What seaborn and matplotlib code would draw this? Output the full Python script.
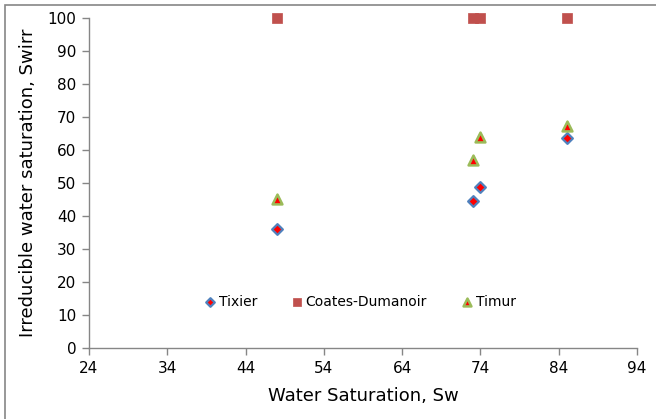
import matplotlib
matplotlib.use("Agg")
import matplotlib.pyplot as plt
import seaborn as sns
import pandas as pd
from matplotlib.patches import Rectangle

sw = [48, 73, 74, 85]
tixier = [36.0, 44.5, 48.7, 63.5]
coates = [100, 100, 100, 100]
timur = [45.0, 57.0, 64.0, 67.3]
xticks = [24, 34, 44, 54, 64, 74, 84, 94]
yticks = list(range(0, 101, 10))

sns.set_theme(style="white")
plt.rcParams['font.family'] = ['Tahoma', 'DejaVu Sans']

rows = []
for name, vals in [("Tixier", tixier), ("Coates-Dumanoir", coates), ("Timur", timur)]:
    for x, y in zip(sw, vals):
        rows.append({"Sw": x, "Swirr": y, "Model": name})
df = pd.DataFrame(rows)

fig = plt.figure(figsize=(6.56, 4.19), dpi=100)
ax = fig.add_axes([89/656, 1-348/419, (637-89)/656, (348-18)/419])

styles = {
    "Tixier": dict(marker="D", s=30, color="red", edgecolor="#4F81BD", linewidth=1.6),
    "Coates-Dumanoir": dict(marker="s", s=55, color="#C0504D", edgecolor="#C0504D", linewidth=0.5),
    "Timur": dict(marker="^", s=50, color="red", edgecolor="#9BBB59", linewidth=1.8),
}
for name, st in styles.items():
    sub = df[df["Model"] == name]
    sns.scatterplot(data=sub, x="Sw", y="Swirr", ax=ax, label=name, clip_on=False, zorder=3, **st)

ax.set_xlim(24, 94)
ax.set_ylim(0, 100)
ax.set_xticks(xticks)
ax.set_yticks(yticks)
for s in ["top", "right"]:
    ax.spines[s].set_visible(False)
for s in ["left", "bottom"]:
    ax.spines[s].set_color("#868686")
    ax.spines[s].set_linewidth(1.0)
ax.tick_params(axis="both", which="both", direction="out", length=5, width=1,
               color="#868686", labelsize=11, labelcolor="black", bottom=True, left=True, pad=4)
ax.set_xlabel("Water Saturation, Sw", fontsize=13, color="black", labelpad=8)
ax.set_ylabel("Irreducible water saturation, Swirr", fontsize=13, color="black", labelpad=8)

leg = ax.legend(loc="center", bbox_to_anchor=(0.495, 0.14), ncol=3, frameon=False,
                fontsize=10, handletextpad=0.2, handlelength=0.8, columnspacing=2.5,
                markerscale=0.8, labelcolor="black")

fig.patches.append(Rectangle((5/656, -0.1), 2, 1 - 5.5/419 + 0.1, transform=fig.transFigure,
                             fill=False, edgecolor="#868686", linewidth=1.2))

fig.savefig("out.png", dpi=100)
